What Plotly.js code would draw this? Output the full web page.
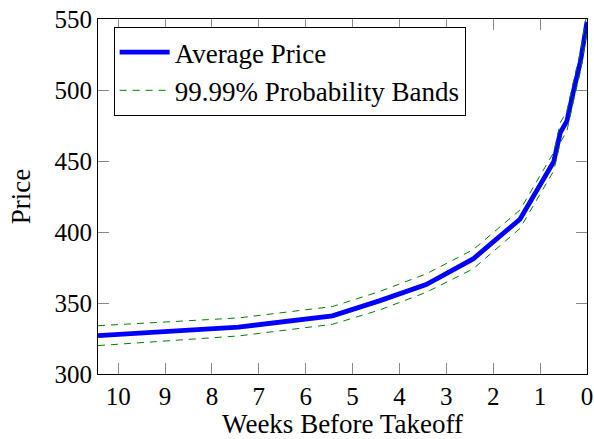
<!DOCTYPE html>
<html>
<head>
<meta charset="utf-8">
<script src="https://cdn.plot.ly/plotly-3.0.1.min.js"></script>
<style>html,body{margin:0;padding:0;background:#fff;}#chart{width:594px;height:439px;}</style>
</head>
<body>
<div id="chart"></div>
<script>
// Weeks before takeoff
const weeks = [10.43, 7.43, 5.43, 4.43, 3.43, 2.43, 1.43, 0.71, 0.57, 0.43, 0.29, 0.14, 0];
const avgPrice = [327, 333, 341, 351.5, 363, 381, 409, 449.5, 470, 478, 499, 520, 548];
const upperBand = [334, 339.5, 347.5, 358, 370.5, 387.5, 415.5, 456, 477, 485, 506, 527, 555];
const lowerBand = [320, 326.8, 335, 345, 357.5, 374, 402.5, 443, 463, 471, 492, 513, 541];
const xTicks = [10, 9, 8, 7, 6, 5, 4, 3, 2, 1, 0];
const yTicks = [300, 350, 400, 450, 500, 550];

const serif = '"Liberation Serif", serif';
const dashGreen = {color: '#008000', width: 1, dash: '7px,6px'};

const traces = [
  {x: weeks, y: avgPrice, mode: 'lines', name: 'Average Price',
   line: {color: '#0000ff', width: 4.8}},
  {x: weeks, y: upperBand, mode: 'lines', name: '99.99% Probability Bands',
   line: dashGreen},
  {x: weeks, y: lowerBand, mode: 'lines', name: 'lower', showlegend: false,
   line: dashGreen}
];

const axisCommon = {
  showline: true, linecolor: '#000', linewidth: 1, mirror: 'ticks',
  ticks: 'inside', ticklen: 11, tickcolor: '#888', tickwidth: 1,
  showgrid: false, zeroline: false,
  tickfont: {family: serif, size: 25, color: '#000'}
};

const layout = {
  width: 594, height: 439,
  margin: {l: 97.5, r: 7, t: 19, b: 65},
  paper_bgcolor: '#fff', plot_bgcolor: '#fff',
  font: {family: serif},
  showlegend: true,
  legend: {x: 0.032, y: 0.977, xanchor: 'left', yanchor: 'top',
    bordercolor: '#000', borderwidth: 1, bgcolor: '#fff', itemwidth: 50,
    font: {family: serif, size: 27, color: '#000'}},
  xaxis: Object.assign({}, axisCommon, {
    range: [10.43, 0], tickvals: xTicks, ticktext: xTicks.map(String),
    title: {text: 'Weeks Before Takeoff', font: {family: serif, size: 27, color: '#000'}, standoff: 10}
  }),
  yaxis: Object.assign({}, axisCommon, {
    range: [300, 550], tickvals: yTicks, ticktext: yTicks.map(String),
    title: {text: 'Price', font: {family: serif, size: 27, color: '#000'}, standoff: 16}
  })
};

Plotly.newPlot('chart', traces, layout, {staticPlot: true, displayModeBar: false});
</script>
</body>
</html>
